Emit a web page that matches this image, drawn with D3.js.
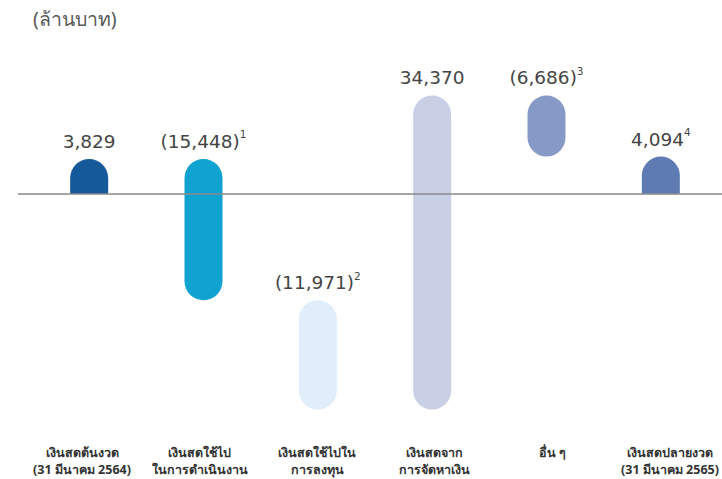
<!DOCTYPE html>
<html><head><meta charset="utf-8">
<script src="https://cdn.jsdelivr.net/npm/d3@7"></script>
<style>
body{margin:0;background:#fff;}
svg{display:block;}
</style></head>
<body>
<script>
const categories = [
  ["เงินสดต้นงวด", "(31 มีนาคม 2564)"],
  ["เงินสดใช้ไป", "ในการดำเนินงาน"],
  ["เงินสดใช้ไปใน", "การลงทุน"],
  ["เงินสดจาก", "การจัดหาเงิน"],
  ["อื่น ๆ"],
  ["เงินสดปลายงวด", "(31 มีนาคม 2565)"]
];
const values = [3829, -15448, -11971, 34370, -6686, 4094];
const isTotal = [true, false, false, false, false, true];
const footnotes = ["", "1", "2", "", "3", "4"];
const colors = ["#15599b", "#10a2d0", "#dfeefa", "#c9d0e6", "#8699c7", "#5f7bb4"];
const unitLabel = "(ล้านบาท)";

const W = 722, H = 479;
const svg = d3.select("body").append("svg").attr("width", W).attr("height", H);

// waterfall extents
let run = 0;
const bars = values.map((v, i) => {
  let a, b;
  if (isTotal[i]) { a = 0; b = v; run = v; }
  else { a = run; b = run + v; run = b; }
  return {i, v, lo: Math.min(a, b), hi: Math.max(a, b), total: isTotal[i]};
});

const x = d3.scalePoint().domain(d3.range(values.length)).range([32, 718]).padding(0.5);
const xl = d3.scalePoint().domain(d3.range(values.length)).range([82, 670]);
const y = d3.scaleLinear().domain([-24000, 12000]).range([413.4, 84.3]);
const bw = 38, r = bw / 2;

svg.append("text").attr("x", 33).attr("y", 26)
  .attr("font-family", "'Noto Sans', 'DejaVu Sans', sans-serif").attr("font-size", 19.5)
  .attr("fill", "#5a5a5a").text(unitLabel);

const g = svg.append("g");
bars.forEach(d => {
  const cx = x(d.i), top = y(d.hi), bot = y(d.lo);
  if (d.total) {
    const x0 = cx - r, x1 = cx + r;
    const p = `M${x0},${bot} L${x0},${top + r} A${r},${r} 0 0 1 ${x1},${top + r} L${x1},${bot} Z`;
    g.append("path").attr("d", p).attr("fill", colors[d.i]);
  } else {
    g.append("rect").attr("x", cx - r).attr("y", top).attr("width", bw)
      .attr("height", bot - top).attr("rx", r).attr("ry", r).attr("fill", colors[d.i]);
  }
  const fmt = d3.format(",");
  const txt = d.v < 0 ? "(" + fmt(-d.v) + ")" : fmt(d.v);
  const t = svg.append("text").attr("x", cx).attr("y", top - 11)
    .attr("text-anchor", "middle")
    .attr("font-family", "'DejaVu Sans', sans-serif").attr("font-size", 18.5)
    .attr("fill", "#454545");
  t.append("tspan").text(txt);
  if (footnotes[d.i]) {
    t.append("tspan").attr("font-size", 10.5).attr("dy", -9.5).text(footnotes[d.i]);
  }
});

// zero line
svg.append("line").attr("x1", 18).attr("x2", W).attr("y1", y(0)).attr("y2", y(0))
  .attr("stroke", "#8a8a8a").attr("stroke-width", 1.5);

// category labels
categories.forEach((lines, i) => {
  const t = svg.append("text").attr("text-anchor", "middle")
    .attr("font-family", "'Noto Sans', 'DejaVu Sans', sans-serif")
    .attr("font-size", 12.5).attr("font-weight", "bold").attr("fill", "#333");
  lines.forEach((ln, k) => {
    t.append("tspan").attr("x", xl(i)).attr("y", 457 + k * 16.5).text(ln);
  });
});
</script>
</body></html>
